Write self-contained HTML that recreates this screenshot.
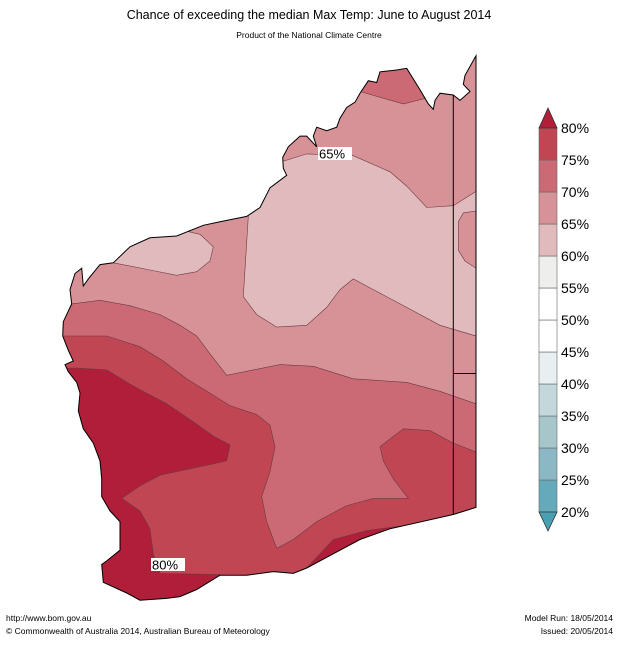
<!DOCTYPE html>
<html><head><meta charset="utf-8"><style>
html,body{margin:0;padding:0;background:#fff;}
body{width:619px;height:640px;overflow:hidden;font-family:"Liberation Sans","DejaVu Sans",sans-serif;}
</style></head><body>
<svg id="svg" width="619" height="640" xmlns="http://www.w3.org/2000/svg">
<text x="309" y="19" text-anchor="middle" font-size="12.5" fill="#000">Chance of exceeding the median Max Temp: June to August 2014</text>
<text x="309" y="38" text-anchor="middle" font-size="8.5" fill="#000">Product of the National Climate Centre</text>
<defs><clipPath id="land"><polygon id="coastclip"/></clipPath></defs>
<g id="map" clip-path="url(#land)"></g>
<g id="over"></g>
<g id="cbar"></g>
<text x="6" y="621" font-size="8.5">http://www.bom.gov.au</text>
<text x="6" y="634" font-size="8.5">©  Commonwealth of Australia 2014, Australian Bureau of Meteorology</text>
<text x="613" y="621" font-size="8.5" text-anchor="end">Model Run: 18/05/2014</text>
<text x="613" y="634" font-size="8.5" text-anchor="end">Issued: 20/05/2014</text>
</svg>
<script>
const levels=[20,25,30,35,40,45,50,55,60,65,70,75,80];
const bandColors=["#65aabb","#8bb8c4","#a6c6ca","#c4d8dc","#e9eef0","#ffffff","#ffffff","#eeeeec","#e1babd","#d79297","#cb6a74","#c04654"];
const overColor="#b01e3a", underColor="#4aa0b3";
const NS="http://www.w3.org/2000/svg";
function T(p){return p.map(([x,y])=>(40+x/3).toFixed(1)+","+(50.4+y*0.357).toFixed(1)).join(" ");}
const coast=[[1308,15],[1275,70],[1270,95],[1290,115],[1260,140],[1240,125],[1200,120],[1185,140],[1180,165],[1165,150],[1140,110],[1100,50],[1070,55],[1020,60],[1010,90],[985,85],[960,120],[945,145],[920,160],[900,190],[890,215],[860,225],[830,215],[820,240],[830,270],[800,240],[780,240],[745,270],[728,300],[730,330],[740,350],[690,385],[660,440],[620,465],[540,480],[490,490],[410,520],[330,525],[270,550],[220,595],[180,600],[145,640],[130,660],[125,610],[105,625],[90,670],[95,710],[70,760],[68,800],[85,840],[100,870],[75,880],[85,900],[110,930],[120,960],[115,1010],[130,1060],[160,1100],[180,1150],[185,1200],[185,1250],[210,1290],[240,1320],[240,1400],[200,1430],[185,1440],[190,1490],[260,1520],[300,1540],[380,1535],[420,1530],[470,1510],[540,1470],[620,1470],[700,1460],[760,1465],[800,1450],[900,1400],[960,1370],[1050,1340],[1240,1300],[1308,1280]];
document.getElementById('coastclip').setAttribute('points',T(coast));
const regions=[
 ["region-65-70",bandColors[9],[[0,0],[1308,0],[1308,1600],[0,1600]]],
 ["region-60-65-central",bandColors[8],[[700,250],[730,310],[800,290],[940,295],[1050,340],[1100,380],[1160,440],[1240,435],[1308,395],[1308,800],[1200,770],[1100,720],[1000,670],[940,640],[900,670],[860,720],[800,770],[710,775],[650,740],[610,690],[625,465],[640,400]]],
 ["region-65-70-east",bandColors[9],[[1308,450],[1270,455],[1255,480],[1255,560],[1275,590],[1308,610]]],
 ["region-60-65-west",bandColors[8],[[220,595],[330,615],[410,630],[470,620],[510,590],[520,550],[480,515],[410,500],[300,500],[200,560]]],
 ["region-70-75-north",bandColors[10],[[940,100],[960,115],[1090,150],[1175,130],[1160,60],[1100,20],[1000,20]]],
 ["region-70-75",bandColors[10],[[0,710],[95,710],[180,700],[270,715],[360,740],[420,770],[470,800],[510,850],[560,910],[640,895],[720,880],[820,885],[940,920],[1100,930],[1200,955],[1308,990],[1308,1600],[0,1600]]],
 ["region-75-80",bandColors[11],[[0,800],[75,800],[200,800],[300,830],[370,870],[440,920],[510,960],[570,995],[650,1020],[690,1050],[705,1110],[690,1180],[665,1250],[680,1320],[710,1395],[760,1370],[830,1320],[920,1275],[1000,1255],[1105,1255],[1060,1200],[1030,1150],[1020,1110],[1090,1060],[1170,1065],[1240,1100],[1308,1125],[1308,1600],[0,1600]]],
 ["region-80-sw",overColor,[[0,890],[110,890],[200,895],[280,940],[380,990],[460,1040],[520,1080],[570,1105],[560,1150],[460,1170],[360,1190],[300,1220],[245,1255],[300,1290],[330,1340],[340,1410],[360,1465],[540,1468],[540,1600],[0,1600]]],
 ["region-80-se",overColor,[[800,1450],[880,1370],[980,1345],[1100,1330],[1240,1300],[1308,1280],[1308,1600],[800,1600]]]
];
const map=document.getElementById('map');
regions.forEach(([n,c,p])=>{const e=document.createElementNS(NS,'polygon');e.setAttribute('points',T(p));e.setAttribute('fill',c);e.setAttribute('stroke','#6a3a40');e.setAttribute('stroke-width','0.6');


map.appendChild(e);});
const over=document.getElementById('over');
function add(tag,attrs,name){const e=document.createElementNS(NS,tag);for(const k in attrs)e.setAttribute(k,attrs[k]);


over.appendChild(e);return e;}
add('polygon',{points:T(coast),fill:'none',stroke:'#000','stroke-width':1},'coastline');
add('line',{x1:453.3,y1:95,x2:453.3,y2:515,stroke:'#000','stroke-width':1},'wa-nt-border');
add('line',{x1:453.3,y1:373.5,x2:476,y2:373.5,stroke:'#000','stroke-width':1},'nt-sa-border');
add('rect',{x:318,y:147,width:34,height:13,fill:'#fff'},'label-65-bg');
add('text',{x:319,y:158.5,'font-size':13},'label-65').textContent='65%';
add('rect',{x:151,y:558,width:34,height:13,fill:'#fff'},'label-80-bg');
add('text',{x:152,y:569.5,'font-size':13},'label-80').textContent='80%';
// colorbar
const cb=document.getElementById('cbar');
const cx=539,cw=18,y0=128,pxPer=6.4;
const yOf=v=>y0+(80-v)*pxPer;
for(let i=0;i<bandColors.length;i++){const e=document.createElementNS(NS,'rect');
e.setAttribute('x',cx);e.setAttribute('y',yOf(levels[i+1]));e.setAttribute('width',cw);e.setAttribute('height',yOf(levels[i])-yOf(levels[i+1]));e.setAttribute('fill',bandColors[i]);e.setAttribute('stroke','#666');e.setAttribute('stroke-width','0.6');


cb.appendChild(e);}
const tt=document.createElementNS(NS,'polygon');tt.setAttribute('points',`${cx},${y0} ${cx+cw/2},${y0-20} ${cx+cw},${y0}`);tt.setAttribute('fill',overColor);tt.setAttribute('stroke','#333');tt.setAttribute('stroke-width','0.8');


cb.appendChild(tt);
const yb=yOf(20);
const tb=document.createElementNS(NS,'polygon');tb.setAttribute('points',`${cx},${yb} ${cx+cw/2},${yb+19} ${cx+cw},${yb}`);tb.setAttribute('fill',underColor);tb.setAttribute('stroke','#333');tb.setAttribute('stroke-width','0.8');


cb.appendChild(tb);
levels.forEach(v=>{const t=document.createElementNS(NS,'text');t.setAttribute('x',cx+cw+4);t.setAttribute('y',yOf(v)+5);t.setAttribute('font-size','14');t.textContent=v+'%';


cb.appendChild(t);});
</script>
</body></html>
